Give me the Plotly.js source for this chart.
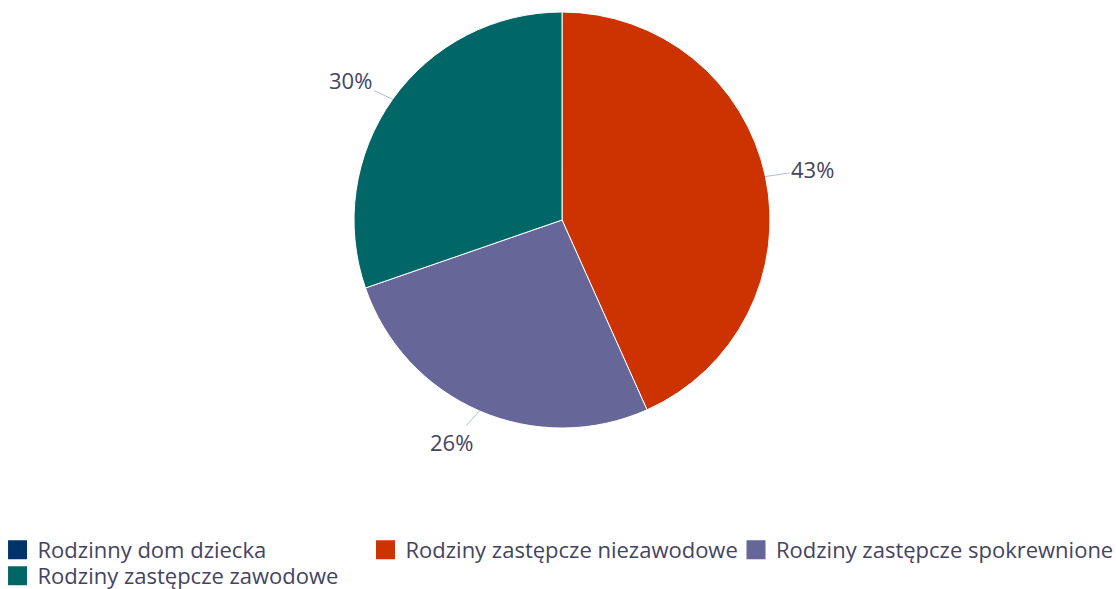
<!DOCTYPE html>
<html>
<head>
<meta charset="utf-8">
<script src="https://cdn.plot.ly/plotly-3.0.1.min.js"></script>
<style>
  html, body { margin: 0; padding: 0; background: #fff; }
  #chart { width: 1116px; height: 589px; }
</style>
</head>
<body>
<div id="chart"></div>
<script>
var categories = ['Rodzinny dom dziecka', 'Rodziny zastępcze niezawodowe', 'Rodziny zastępcze spokrewnione', 'Rodziny zastępcze zawodowe'];
var values = [0, 43.3, 26.4, 30.3];
var colors = ['#00336a', '#cc3300', '#666699', '#006666'];
// one legend box per entry: three on the first row, one on the second
var legendOf = ['legend', 'legend2', 'legend3', 'legend4'];

var W = 1116, H = 589;
var margin = {l: 0, r: 0, t: 12, b: 161, autoexpand: false};
var plotW = W - margin.l - margin.r;
var plotH = H - margin.t - margin.b;
var pieDomainX = [0.0072, 1];
var R = plotH / 2;
var cxPaper = (pieDomainX[0] + pieDomainX[1]) / 2;
var textColor = '#444461';

// percent labels with connector lines, placed at each slice's mid angle
var total = values.reduce(function(a, b) { return a + b; }, 0);
var annotations = [];
var acc = 0;
values.forEach(function(v) {
    var start = acc;
    acc += v;
    if (v <= 0) return;
    var mid = (start + v / 2) / total * 2 * Math.PI;
    var sx = Math.sin(mid), cy = Math.cos(mid);
    var side = sx >= 0 ? 1 : -1;
    annotations.push({
        xref: 'paper', yref: 'paper',
        x: cxPaper + R * sx / plotW,
        y: 0.5 + R * cy / plotH,
        text: Math.round(v / total * 100) + '%',
        showarrow: true,
        arrowhead: 0,
        arrowwidth: 1,
        arrowcolor: '#b4bcd6',
        standoff: 0,
        ax: sx * 34 + side * 14,
        ay: -cy * 34,
        font: {family: 'Open Sans', size: 22, color: textColor}
    });
});

var traces = [{
    type: 'pie',
    labels: categories,
    values: values,
    sort: false,
    direction: 'clockwise',
    rotation: 0,
    textinfo: 'none',
    hoverinfo: 'label+percent',
    showlegend: false,
    domain: {x: pieDomainX, y: [0, 1]},
    marker: {colors: colors, line: {color: '#ffffff', width: 1}}
}];

// legend entries with larger square swatches
categories.forEach(function(name, i) {
    traces.push({
        type: 'scatter',
        mode: 'markers',
        x: [null], y: [null],
        name: name,
        legend: legendOf[i],
        hoverinfo: 'skip',
        marker: {symbol: 'square', size: 16, color: colors[i], line: {color: colors[i], width: 3}}
    });
});

function legendBox(x, y) {
    return {
        orientation: 'h', x: x, xanchor: 'left', y: y, yanchor: 'top',
        bgcolor: 'rgba(0,0,0,0)', itemsizing: 'trace',
        font: {family: 'Open Sans', size: 22, color: textColor}
    };
}
var row1 = -0.2426, row2 = -0.3052;

var layout = {
    width: W,
    height: H,
    margin: margin,
    paper_bgcolor: '#ffffff',
    plot_bgcolor: 'rgba(0,0,0,0)',
    font: {family: 'Open Sans', color: textColor},
    xaxis: {visible: false},
    yaxis: {visible: false},
    showlegend: true,
    legend: legendBox(-0.0022, row1),
    legend2: legendBox(0.3275, row1),
    legend3: legendBox(0.6595, row1),
    legend4: legendBox(-0.0022, row2),
    annotations: annotations
};

Plotly.newPlot('chart', traces, layout, {displayModeBar: false});
</script>
</body>
</html>
